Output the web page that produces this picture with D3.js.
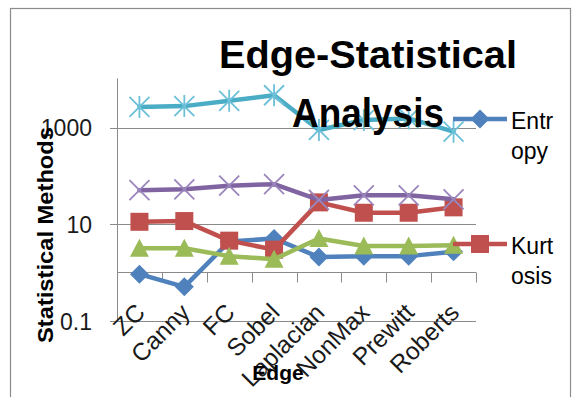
<!DOCTYPE html>
<html>
<head>
<meta charset="utf-8">
<script src="https://cdn.jsdelivr.net/npm/d3@7"></script>
<style>
  html, body { margin: 0; padding: 0; background: #fff; }
  svg { display: block; font-family: "Liberation Sans", Arial, sans-serif; }
</style>
</head>
<body>
<svg id="chart" width="578" height="397"></svg>
<script>
const categories = ["ZC", "Canny", "FC", "Sobel", "Laplacian", "NonMax", "Prewitt", "Roberts"];
const entropy  = [0.93, 0.51, 4.4, 5.1, 2.1, 2.2, 2.2, 2.7];
const kurtosis = [11.3, 11.7, 4.6, 3.0, 28.5, 17.4, 17.4, 22.5];
const skewness = [3.2, 3.2, 2.2, 1.9, 5.1, 3.55, 3.55, 3.7];
const meanVals = [51, 53, 63, 68, 32, 40, 40, 33];
const variance = [2700, 2800, 3600, 4700, 900, 1440, 1560, 830];
const yTicks = [0.1, 10, 1000];
const yTickLabels = ["0.1", "10", "1000"];
const legendNames = ["Entr", "opy", "Kurt", "osis"];

const series = [
  { name: "Entropy",  values: entropy,  color: "#4F81BD", marker: "diamond" },
  { name: "Kurtosis", values: kurtosis, color: "#C0504D", marker: "square" },
  { name: "Skewness", values: skewness, color: "#9BBB59", marker: "triangle" },
  { name: "Mean",     values: meanVals, color: "#8064A2", marker: "x" },
  { name: "Variance", values: variance, color: "#4BACC6", marker: "star" }
];

const svg = d3.select("#chart");

// chart border
svg.append("rect").attr("x", 10.5).attr("y", 8.5).attr("width", 560).attr("height", 400)
  .attr("fill", "none").attr("stroke", "#8c8c8c").attr("stroke-width", 1.2);

const x = d3.scaleBand().domain(categories).range([117, 476]);
const y = d3.scaleLog().domain([0.1, 10000]).range([321, 79.4]);
const cx = d => x(d) + x.bandwidth() / 2;

// gridlines + y ticks
svg.selectAll(".grid").data(yTicks).enter().append("line")
  .attr("x1", 110).attr("x2", 476)
  .attr("y1", d => Math.round(y(d)) + 0.5).attr("y2", d => Math.round(y(d)) + 0.5)
  .attr("stroke", "#8a8a8a").attr("stroke-width", 1);

// y axis line
svg.append("line").attr("x1", 117.5).attr("x2", 117.5)
  .attr("y1", y(10000) - 1).attr("y2", y(0.1))
  .attr("stroke", "#8a8a8a").attr("stroke-width", 1);

// y tick labels
svg.selectAll(".ylab").data(yTicks).enter().append("text")
  .attr("x", 92).attr("y", d => y(d) + 8.5)
  .attr("text-anchor", "end").attr("font-size", 23).attr("fill", "#1a1a1a")
  .text((d, i) => yTickLabels[i]);

// category axis at y = 1
const yAx = Math.round(y(1)) - 0.5;
svg.append("line").attr("x1", 117).attr("x2", 476).attr("y1", yAx).attr("y2", yAx)
  .attr("stroke", "#8a8a8a").attr("stroke-width", 1);
const bounds = categories.map(c => x(c)).concat([x.range()[1]]);
svg.selectAll(".xtick").data(bounds).enter().append("line")
  .attr("x1", d => Math.round(d) + 0.5).attr("x2", d => Math.round(d) + 0.5)
  .attr("y1", yAx).attr("y2", yAx + 10)
  .attr("stroke", "#8a8a8a").attr("stroke-width", 1);

// category labels
svg.selectAll(".xlab").data(categories).enter().append("text")
  .attr("transform", d => `translate(${cx(d) + 7},314) rotate(-45)`)
  .attr("text-anchor", "end").attr("font-size", 24.5).attr("fill", "#1a1a1a")
  .text(d => d);

// marker drawing
function drawMarker(g, type, color, px, py) {
  if (type === "diamond") {
    const r = 9.5;
    g.append("path").attr("d", `M${px},${py - r}L${px + r},${py}L${px},${py + r}L${px - r},${py}Z`)
      .attr("fill", color);
  } else if (type === "square") {
    const s = 18;
    g.append("rect").attr("x", px - s / 2).attr("y", py - s / 2).attr("width", s).attr("height", s)
      .attr("fill", color);
  } else if (type === "triangle") {
    const w = 19, h = 17;
    g.append("path").attr("d", `M${px},${py - h / 2 - 1}L${px + w / 2},${py + h / 2}L${px - w / 2},${py + h / 2}Z`)
      .attr("fill", color);
  } else if (type === "x") {
    const r = 10;
    g.append("path").attr("d", `M${px - r},${py - r}L${px + r},${py + r}M${px - r},${py + r}L${px + r},${py - r}`)
      .attr("stroke", "#9a86bd").attr("stroke-width", 1.8).attr("fill", "none");
  } else if (type === "star") {
    const r = 10;
    g.append("path").attr("d", `M${px - r},${py - r}L${px + r},${py + r}M${px - r},${py + r}L${px + r},${py - r}M${px},${py - r - 1}L${px},${py + r + 1}`)
      .attr("stroke", "#6cc0d8").attr("stroke-width", 1.8).attr("fill", "none");
  }
}

const line = d3.line().x((d, i) => cx(categories[i])).y(d => y(d));
series.forEach(s => {
  const g = svg.append("g");
  g.append("path").datum(s.values).attr("d", line)
    .attr("fill", "none").attr("stroke", s.color).attr("stroke-width", 4.5)
    .attr("stroke-linejoin", "round").attr("stroke-linecap", "round");
  s.values.forEach((v, i) => drawMarker(g, s.marker, s.color, cx(categories[i]), y(v)));
});

// legend (only two entries visible)
const legendY = [119, 244];
[series[0], series[1]].forEach((s, i) => {
  const g = svg.append("g");
  g.append("line").attr("x1", 453).attr("x2", 507).attr("y1", legendY[i]).attr("y2", legendY[i])
    .attr("stroke", s.color).attr("stroke-width", 4.5);
  drawMarker(g, s.marker, s.color, 480, legendY[i]);
  g.append("text").attr("x", 511).attr("y", legendY[i] + 10).attr("font-size", 23).attr("fill", "#000")
    .text(legendNames[i * 2]);
  g.append("text").attr("x", 511).attr("y", legendY[i] + 40).attr("font-size", 23).attr("fill", "#000")
    .text(legendNames[i * 2 + 1]);
});

// title
svg.append("text").attr("x", 368).attr("y", 68).attr("text-anchor", "middle")
  .attr("font-size", 39).attr("font-weight", "bold").attr("fill", "#000")
  .attr("textLength", 298).attr("lengthAdjust", "spacingAndGlyphs")
  .text("Edge-Statistical");
svg.append("text").attr("x", 368).attr("y", 126.5).attr("text-anchor", "middle")
  .attr("font-size", 41).attr("font-weight", "bold").attr("fill", "#000")
  .attr("textLength", 152).attr("lengthAdjust", "spacingAndGlyphs")
  .text("Analysis");

// axis titles
svg.append("text").attr("transform", "translate(53,235) rotate(-90)")
  .attr("text-anchor", "middle").attr("font-size", 22).attr("font-weight", "bold").attr("fill", "#000")
  .attr("textLength", 216).attr("lengthAdjust", "spacingAndGlyphs")
  .text("Statistical Methods");
svg.append("text").attr("x", 278).attr("y", 380).attr("text-anchor", "middle")
  .attr("font-size", 21).attr("font-weight", "bold").attr("fill", "#000")
  .text("Edge");
</script>
</body>
</html>
